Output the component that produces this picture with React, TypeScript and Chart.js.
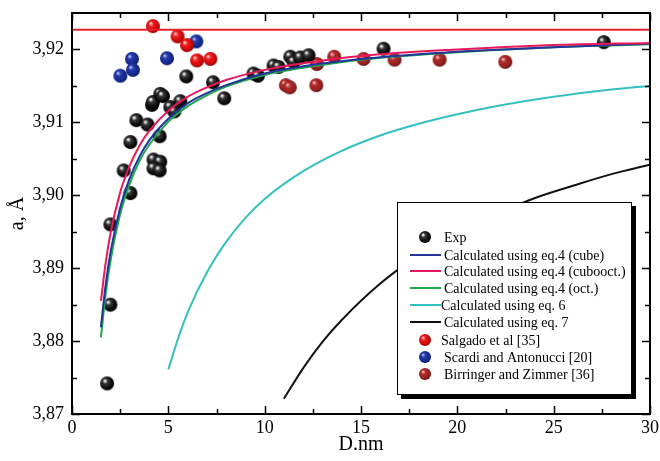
import { useEffect, useRef } from 'react';
import { Chart, registerables } from 'chart.js';
Chart.register(...registerables);

const FONT = '"Liberation Serif", "Times New Roman", serif';

// Tick labels
const xTicks = [0, 5, 10, 15, 20, 25, 30];
const yTicks = [3.87, 3.88, 3.89, 3.9, 3.91, 3.92];
const xMinorTicks = [2.5, 7.5, 12.5, 17.5, 22.5, 27.5];
const yMinorTicks = [3.875, 3.885, 3.895, 3.905, 3.915];

// Experimental points
const expD = [1.82, 1.99, 1.99, 3.03, 2.68, 3.03, 3.34, 3.92, 4.15, 4.2, 4.58, 4.72, 4.55, 4.23, 4.58, 4.23, 4.55, 5.1, 5.31, 5.62, 5.93, 7.32, 7.9, 9.42, 9.65, 10.46, 10.72, 11.33, 11.5, 11.85, 12.28, 16.17, 27.6];
const expA = [3.8742, 3.885, 3.896, 3.9003, 3.9034, 3.9073, 3.9103, 3.9097, 3.9124, 3.9128, 3.9139, 3.9136, 3.9081, 3.9049, 3.9046, 3.9037, 3.9034, 3.9121, 3.9115, 3.9129, 3.9163, 3.9155, 3.9133, 3.9167, 3.9164, 3.9178, 3.9176, 3.919, 3.9183, 3.9189, 3.9192, 3.9201, 3.921];

const salgadoD = [4.2, 5.48, 5.97, 6.49, 7.18];
const salgadoA = [3.9232, 3.9218, 3.9206, 3.9185, 3.9187];
const scardiD = [2.51, 3.11, 3.16, 4.93, 6.45];
const scardiA = [3.9164, 3.9187, 3.9172, 3.9188, 3.9211];
const birringerD = [11.1, 11.3, 12.68, 12.71, 13.61, 15.13, 16.74, 19.08, 22.49];
const birringerA = [3.9151, 3.9148, 3.9151, 3.918, 3.919, 3.9187, 3.9186, 3.9186, 3.9183];

// Calculated curves
const eq4D = [1.5, 1.75, 2, 2.5, 3, 3.5, 4, 5, 6, 7, 8, 10, 12, 15, 20, 25, 30];
const cubeA = [3.8819, 3.8878, 3.8922, 3.8983, 3.9024, 3.9053, 3.9075, 3.9105, 3.9126, 3.914, 3.9151, 3.9167, 3.9177, 3.9187, 3.9197, 3.9203, 3.9208];
const cuboctA = [3.8855, 3.8908, 3.8948, 3.9004, 3.9041, 3.9068, 3.9088, 3.9116, 3.9135, 3.9148, 3.9158, 3.9172, 3.9181, 3.9191, 3.92, 3.9206, 3.9209];
const octA = [3.8805, 3.8865, 3.891, 3.8974, 3.9016, 3.9047, 3.9069, 3.9101, 3.9122, 3.9137, 3.9149, 3.9165, 3.9175, 3.9186, 3.9196, 3.9203, 3.9207];
const eq6D = [5, 5.5, 6, 7, 8, 9, 10, 12, 14, 16, 18, 20, 22, 25, 28, 30];
const eq6A = [3.8761, 3.8803, 3.8839, 3.8894, 3.8936, 3.8969, 3.8995, 3.9033, 3.9061, 3.9082, 3.9098, 3.9111, 3.9122, 3.9135, 3.9145, 3.915];
const eq7D = [11, 12, 13, 14, 16, 18, 20, 22, 24, 26, 28, 30];
const eq7A = [3.8721, 3.8763, 3.8799, 3.8829, 3.8879, 3.8918, 3.8949, 3.8974, 3.8996, 3.9013, 3.9029, 3.9042];
const bulkD = [0, 30];
const bulkA = [3.9227, 3.9227];

const legendLabels = [
  'Exp',
  'Calculated using eq.4 (cube)',
  'Calculated using eq.4 (cubooct.)',
  'Calculated using eq.4 (oct.)',
  'Calculated using eq. 6',
  'Calculated using eq. 7',
  'Salgado et al [35]',
  'Scardi and Antonucci [20]',
  'Birringer and Zimmer [36]',
];

const zip = (xs: number[], ys: number[]) => xs.map((x, i) => ({ x, y: ys[i] }));

function sphere(r: number, stops: [number, string][]) {
  const c = document.createElement('canvas');
  const s = Math.ceil(2 * r + 2);
  c.width = s;
  c.height = s;
  const ctx = c.getContext('2d')!;
  const cx = s / 2, cy = s / 2;
  const g = ctx.createRadialGradient(cx - r * 0.35, cy - r * 0.4, 0, cx - r * 0.1, cy - r * 0.1, r * 1.1);
  stops.forEach(([o, col]) => g.addColorStop(o, col));
  ctx.fillStyle = g;
  ctx.beginPath();
  ctx.arc(cx, cy, r, 0, Math.PI * 2);
  ctx.fill();
  return c;
}

const blackStops: [number, string][] = [[0, '#ffffff'], [0.12, '#d5d5d5'], [0.32, '#3a3a3a'], [0.7, '#111111'], [1, '#000000']];
const redStops: [number, string][] = [[0, '#ffffff'], [0.12, '#ff9a9a'], [0.35, '#f01c1c'], [0.8, '#c80808'], [1, '#900000']];
const blueStops: [number, string][] = [[0, '#ffffff'], [0.12, '#8090e0'], [0.35, '#2238a8'], [0.8, '#152a8a'], [1, '#0a1560']];
const brownStops: [number, string][] = [[0, '#ffffff'], [0.12, '#e09090'], [0.35, '#b02a2a'], [0.8, '#962020'], [1, '#601010']];

export default function App() {
  const ref = useRef<HTMLCanvasElement>(null);
  useEffect(() => {
    document.body.style.margin = '0';
    const R = 7;
    const sBlack = sphere(R, blackStops);
    const sRed = sphere(R, redStops);
    const sBlue = sphere(R, blueStops);
    const sBrown = sphere(R, brownStops);
    const lBlack = sphere(6, blackStops);
    const lRed = sphere(6, redStops);
    const lBlue = sphere(6, blueStops);
    const lBrown = sphere(6, brownStops);

    const lineColors = ['#22349a', '#e8195a', '#1fa84a', '#35c0c0', '#111111'];

    const framePlugin = {
      id: 'frameAndLegend',
      afterDraw(chart: any) {
        const ctx = chart.ctx as CanvasRenderingContext2D;
        const { left, right, top, bottom } = chart.chartArea;
        const xs = chart.scales.x;
        const ys = chart.scales.y;
        ctx.save();
        // legend box
        const bx = 397, by = 202, bw = 235, bh = 193;
        ctx.fillStyle = '#000';
        ctx.fillRect(bx + 4, by + 4, bw, bh);
        ctx.fillStyle = '#fff';
        ctx.fillRect(bx, by, bw, bh);
        ctx.strokeStyle = '#000';
        ctx.lineWidth = 1;
        ctx.strokeRect(bx + 0.5, by + 0.5, bw - 1, bh - 1);
        const rowY = [237, 255, 271, 288, 305, 322, 340, 357, 374];
        ctx.font = `14px ${FONT}`;
        ctx.textBaseline = 'middle';
        ctx.textAlign = 'left';
        legendLabels.forEach((lab, i) => {
          const y = rowY[i];
          let tx = 444;
          if (i === 0) {
            ctx.drawImage(lBlack, 425 - lBlack.width / 2, y - lBlack.height / 2);
            tx = 444;
          } else if (i <= 5) {
            ctx.strokeStyle = lineColors[i - 1];
            ctx.lineWidth = 2;
            ctx.beginPath();
            ctx.moveTo(410, y);
            ctx.lineTo(441, y);
            ctx.stroke();
            tx = i === 4 ? 441 : 444;
          } else {
            const img = i === 6 ? lRed : i === 7 ? lBlue : lBrown;
            ctx.drawImage(img, 425 - img.width / 2, y - img.height / 2);
            tx = i === 6 ? 441 : 444;
          }
          ctx.fillStyle = '#000';
          ctx.fillText(lab, tx, y + 1);
        });
        // frame
        ctx.strokeStyle = '#000';
        ctx.lineWidth = 2;
        ctx.strokeRect(left, top, right - left, bottom - top);
        ctx.lineWidth = 1.5;
        ctx.beginPath();
        const tickX = (v: number, len: number) => {
          const p = Math.round(xs.getPixelForValue(v)) + 0.5;
          ctx.moveTo(p, bottom); ctx.lineTo(p, bottom - len);
          ctx.moveTo(p, top); ctx.lineTo(p, top + len);
        };
        const tickY = (v: number, len: number) => {
          const p = Math.round(ys.getPixelForValue(v)) + 0.5;
          ctx.moveTo(left, p); ctx.lineTo(left + len, p);
          ctx.moveTo(right, p); ctx.lineTo(right - len, p);
        };
        xTicks.forEach((v) => tickX(v, 8));
        xMinorTicks.forEach((v) => tickX(v, 5));
        yTicks.forEach((v) => tickY(v, 8));
        yMinorTicks.forEach((v) => tickY(v, 5));
        ctx.stroke();
        ctx.restore();
      },
    };

    const lineDs = (label: string, xs: number[], ys: number[], color: string, order: number) => ({
      label,
      data: zip(xs, ys),
      showLine: true,
      borderColor: color,
      borderWidth: 2,
      pointRadius: 0,
      cubicInterpolationMode: 'monotone' as const,
      fill: false,
      order,
    });
    const ptDs = (label: string, xs: number[], ys: number[], img: HTMLCanvasElement, order: number) => ({
      label,
      data: zip(xs, ys),
      showLine: false,
      pointStyle: img,
      pointRadius: R,
      order,
    });

    const chart = new Chart(ref.current!, {
      type: 'scatter',
      data: {
        datasets: [
          lineDs('bulk', bulkD, bulkA, '#e8202a', 1),
          lineDs(legendLabels[1], eq4D, cubeA, lineColors[0], 2),
          lineDs(legendLabels[3], eq4D, octA, lineColors[2], 3),
          lineDs(legendLabels[2], eq4D, cuboctA, lineColors[1], 1),
          lineDs(legendLabels[4], eq6D, eq6A, lineColors[3], 1),
          lineDs(legendLabels[5], eq7D, eq7A, lineColors[4], 1),
          ptDs(legendLabels[0], expD, expA, sBlack, 10),
          ptDs(legendLabels[6], salgadoD, salgadoA, sRed, 10),
          ptDs(legendLabels[7], scardiD, scardiA, sBlue, 10),
          ptDs(legendLabels[8], birringerD, birringerA, sBrown, 10),
        ] as any,
      },
      options: {
        responsive: false,
        animation: false,
        devicePixelRatio: 1,
        layout: { padding: { top: 13, right: 10, left: 0, bottom: 0 } },
        plugins: { legend: { display: false }, tooltip: { enabled: false } },
        scales: {
          x: {
            type: 'linear',
            min: 0,
            max: 30,
            afterBuildTicks: (s: any) => { s.ticks = xTicks.map((v) => ({ value: v })); },
            afterFit: (s: any) => { s.height = 47; s.paddingLeft = 0; s.paddingRight = 0; },
            grid: { display: false, drawTicks: false },
            border: { display: false },
            ticks: { font: { family: FONT, size: 18 }, color: '#000', padding: 3, maxRotation: 0, callback: (v: any) => String(v) },
            title: { display: true, text: 'D.nm', font: { family: FONT, size: 20 }, color: '#000', padding: { top: 0, bottom: 4 } },
          },
          y: {
            type: 'linear',
            min: 3.87,
            max: 3.925,
            afterBuildTicks: (s: any) => { s.ticks = yTicks.map((v) => ({ value: v })); },
            afterFit: (s: any) => { s.width = 72; s.paddingTop = 0; s.paddingBottom = 0; },
            grid: { display: false, drawTicks: false },
            border: { display: false },
            ticks: { font: { family: FONT, size: 18 }, color: '#000', padding: 8, callback: (v: any) => Number(v).toFixed(2).replace('.', ',') },
            title: { display: true, text: 'a, Å', font: { family: FONT, size: 20 }, color: '#000', padding: { top: 6, bottom: 0 } },
          },
        },
      } as any,
      plugins: [framePlugin],
    });
    return () => chart.destroy();
  }, []);
  return (
    <div style={{ width: 660, height: 461 }}>
      <canvas ref={ref} width={660} height={461} />
    </div>
  );
}
